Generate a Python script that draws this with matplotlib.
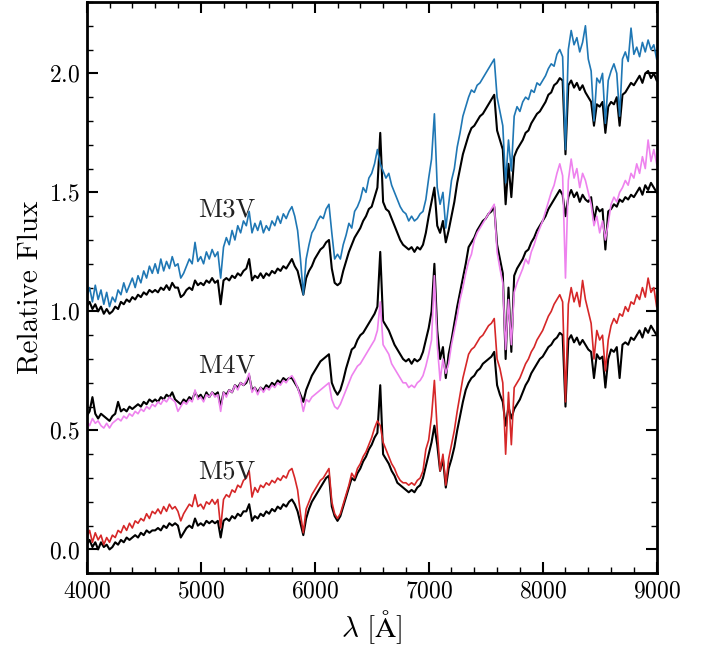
import numpy as np
import matplotlib
matplotlib.use("Agg")
import matplotlib.pyplot as plt
from matplotlib.ticker import MultipleLocator

# wavelength grid shared by all spectra (Angstrom)
wave = np.arange(4000, 9001, 25)

# M3V target (blue) and its black comparison spectrum
flux_m3v = [
    1.06, 1.10, 1.04, 1.11, 1.05, 1.09, 1.03, 1.08,
    1.02, 1.06, 1.04, 1.09, 1.07, 1.12, 1.08, 1.11,
    1.14, 1.10, 1.15, 1.12, 1.17, 1.14, 1.19, 1.16,
    1.20, 1.16, 1.22, 1.17, 1.21, 1.18, 1.23, 1.19,
    1.20, 1.14, 1.16, 1.19, 1.22, 1.20, 1.29, 1.21,
    1.23, 1.20, 1.25, 1.22, 1.26, 1.23, 1.25, 1.14,
    1.27, 1.31, 1.28, 1.34, 1.30, 1.36, 1.33, 1.38,
    1.36, 1.42, 1.33, 1.37, 1.34, 1.38, 1.33, 1.36,
    1.34, 1.38, 1.36, 1.40, 1.37, 1.41, 1.39, 1.42,
    1.44, 1.40, 1.34, 1.22, 1.07, 1.22, 1.28, 1.33,
    1.35, 1.38, 1.40, 1.39, 1.43, 1.45, 1.33, 1.22,
    1.24, 1.22, 1.28, 1.32, 1.37, 1.35, 1.42, 1.44,
    1.47, 1.52, 1.50, 1.56, 1.58, 1.62, 1.68, 1.62,
    1.59, 1.56, 1.58, 1.53, 1.50, 1.47, 1.44, 1.42,
    1.41, 1.38, 1.40, 1.38, 1.39, 1.41, 1.42, 1.47,
    1.56, 1.64, 1.83, 1.52, 1.45, 1.50, 1.35, 1.45,
    1.55, 1.60, 1.69, 1.75, 1.82, 1.86, 1.90, 1.93,
    1.92, 1.95, 1.96, 1.98, 2.00, 2.02, 2.04, 2.06,
    1.90, 1.84, 1.78, 1.54, 1.72, 1.59, 1.82, 1.86,
    1.84, 1.88, 1.90, 1.89, 1.93, 1.92, 1.96, 1.95,
    1.97, 1.99, 2.02, 2.04, 2.03, 2.08, 2.10, 2.07,
    1.68, 2.10, 2.18, 2.12, 2.15, 2.09, 2.13, 2.20,
    2.06, 2.01, 1.80, 1.98, 1.96, 2.00, 1.79, 1.97,
    2.01, 2.04, 2.00, 1.82, 2.06, 2.09, 2.05, 2.19,
    2.08, 2.11, 2.07, 2.13, 2.09, 2.14, 2.10, 2.12,
    2.06]
ref_m3v = [
    1.02, 1.04, 1.01, 1.03, 1.00, 1.02, 0.99, 1.01,
    0.99, 1.00, 1.02, 1.01, 1.04, 1.03, 1.05, 1.04,
    1.06, 1.05, 1.07, 1.06, 1.08, 1.07, 1.09, 1.08,
    1.09, 1.08, 1.10, 1.09, 1.11, 1.09, 1.12, 1.10,
    1.10, 1.06, 1.07, 1.09, 1.10, 1.09, 1.13, 1.11,
    1.12, 1.11, 1.13, 1.12, 1.14, 1.12, 1.13, 1.03,
    1.13, 1.14, 1.13, 1.15, 1.14, 1.16, 1.15, 1.17,
    1.18, 1.22, 1.13, 1.15, 1.14, 1.16, 1.14, 1.16,
    1.15, 1.17, 1.16, 1.18, 1.17, 1.19, 1.18, 1.20,
    1.22, 1.19, 1.17, 1.12, 1.07, 1.14, 1.17, 1.19,
    1.22, 1.24, 1.26, 1.27, 1.29, 1.30, 1.18, 1.12,
    1.11, 1.12, 1.17, 1.21, 1.25, 1.28, 1.31, 1.33,
    1.35, 1.38, 1.40, 1.43, 1.44, 1.48, 1.52, 1.75,
    1.46, 1.43, 1.42, 1.39, 1.36, 1.33, 1.30, 1.28,
    1.27, 1.26, 1.27, 1.25, 1.27, 1.26, 1.28, 1.33,
    1.40, 1.46, 1.52, 1.36, 1.33, 1.38, 1.29, 1.34,
    1.40, 1.46, 1.54, 1.60, 1.66, 1.70, 1.74, 1.77,
    1.78, 1.80, 1.82, 1.83, 1.85, 1.87, 1.89, 1.91,
    1.76, 1.72, 1.68, 1.45, 1.62, 1.48, 1.65, 1.68,
    1.70, 1.72, 1.75, 1.76, 1.79, 1.81, 1.83, 1.84,
    1.86, 1.88, 1.91, 1.92, 1.95, 1.96, 1.98, 1.97,
    1.66, 1.95, 1.97, 1.94, 1.96, 1.93, 1.95, 1.92,
    1.90, 1.88, 1.78, 1.87, 1.86, 1.88, 1.75, 1.86,
    1.88, 1.87, 1.90, 1.78, 1.91, 1.92, 1.94, 1.96,
    1.95, 1.97, 1.99, 1.96, 2.00, 2.01, 1.98, 2.00,
    1.97]

# M4V target (violet) and comparison
flux_m4v = [
    0.54, 0.52, 0.55, 0.53, 0.54, 0.52, 0.51, 0.53,
    0.51, 0.53, 0.54, 0.55, 0.54, 0.56, 0.55, 0.57,
    0.56, 0.58, 0.57, 0.59, 0.58, 0.60, 0.59, 0.61,
    0.60, 0.62, 0.61, 0.63, 0.62, 0.64, 0.63, 0.62,
    0.58, 0.60, 0.62, 0.61, 0.63, 0.62, 0.67, 0.63,
    0.64, 0.62, 0.65, 0.64, 0.66, 0.64, 0.65, 0.58,
    0.66, 0.64, 0.67, 0.66, 0.69, 0.67, 0.70, 0.69,
    0.71, 0.74, 0.66, 0.68, 0.65, 0.68, 0.66, 0.68,
    0.67, 0.69, 0.68, 0.70, 0.69, 0.71, 0.70, 0.72,
    0.73, 0.71, 0.68, 0.64, 0.58, 0.63, 0.62, 0.64,
    0.65, 0.66, 0.67, 0.68, 0.69, 0.70, 0.63, 0.60,
    0.59, 0.61, 0.64, 0.67, 0.70, 0.73, 0.75, 0.77,
    0.78, 0.80, 0.82, 0.84, 0.86, 0.88, 0.92, 1.04,
    0.86, 0.84, 0.82, 0.78, 0.76, 0.74, 0.72, 0.70,
    0.70, 0.68, 0.69, 0.68, 0.70, 0.71, 0.73, 0.77,
    0.82, 0.88, 1.15, 0.86, 0.71, 0.80, 0.74, 0.78,
    0.86, 0.92, 0.98, 1.05, 1.10, 1.16, 1.21, 1.24,
    1.30, 1.33, 1.35, 1.37, 1.39, 1.41, 1.43, 1.45,
    1.25, 1.18, 1.12, 0.84, 1.05, 0.86, 1.08, 1.12,
    1.15, 1.18, 1.22, 1.20, 1.25, 1.28, 1.32, 1.35,
    1.38, 1.42, 1.46, 1.50, 1.53, 1.58, 1.62, 1.57,
    1.14, 1.55, 1.64, 1.56, 1.60, 1.52, 1.58, 1.55,
    1.50, 1.45, 1.36, 1.40, 1.33, 1.38, 1.30, 1.37,
    1.45, 1.48, 1.46, 1.50, 1.52, 1.55, 1.53, 1.58,
    1.56, 1.62, 1.58, 1.65, 1.60, 1.72, 1.63, 1.68,
    1.62]
ref_m4v = [
    0.56, 0.58, 0.64, 0.57, 0.55, 0.57, 0.56, 0.55,
    0.54, 0.56, 0.57, 0.62, 0.58, 0.59, 0.58, 0.60,
    0.59, 0.60, 0.61, 0.60, 0.62, 0.61, 0.63, 0.62,
    0.63, 0.62, 0.64, 0.63, 0.65, 0.64, 0.66, 0.63,
    0.62, 0.61, 0.63, 0.62, 0.64, 0.63, 0.66, 0.64,
    0.65, 0.63, 0.66, 0.64, 0.66, 0.65, 0.66, 0.60,
    0.66, 0.65, 0.67, 0.66, 0.69, 0.68, 0.70, 0.69,
    0.70, 0.73, 0.67, 0.68, 0.66, 0.68, 0.67, 0.69,
    0.68, 0.70, 0.69, 0.71, 0.70, 0.72, 0.71, 0.72,
    0.72, 0.70, 0.68, 0.65, 0.62, 0.67, 0.70, 0.73,
    0.75, 0.77, 0.79, 0.80, 0.81, 0.82, 0.70, 0.67,
    0.65, 0.67, 0.71, 0.76, 0.80, 0.84, 0.85, 0.88,
    0.90, 0.91, 0.93, 0.95, 0.97, 0.99, 1.02, 1.25,
    0.96, 0.94, 0.92, 0.89, 0.86, 0.84, 0.82, 0.80,
    0.79, 0.80, 0.78, 0.80, 0.79, 0.80, 0.83, 0.88,
    0.93, 1.00, 1.20, 0.92, 0.80, 0.85, 0.72, 0.82,
    0.88, 0.95, 1.02, 1.08, 1.14, 1.20, 1.27, 1.29,
    1.31, 1.34, 1.36, 1.38, 1.39, 1.41, 1.42, 1.44,
    1.28, 1.22, 1.16, 0.80, 1.10, 0.83, 1.15, 1.18,
    1.20, 1.22, 1.25, 1.26, 1.29, 1.31, 1.34, 1.36,
    1.38, 1.40, 1.43, 1.45, 1.47, 1.49, 1.51, 1.49,
    1.40, 1.48, 1.51, 1.48, 1.50, 1.46, 1.49, 1.47,
    1.46, 1.48, 1.38, 1.44, 1.42, 1.43, 1.26, 1.42,
    1.43, 1.45, 1.44, 1.47, 1.46, 1.48, 1.47, 1.49,
    1.48, 1.50, 1.52, 1.49, 1.53, 1.51, 1.54, 1.52,
    1.50]

# M5V target (red) and comparison
flux_m5v = [
    0.05, 0.08, 0.03, 0.07, 0.04, 0.06, 0.02, 0.05,
    0.03, 0.06, 0.05, 0.08, 0.07, 0.10, 0.08, 0.11,
    0.09, 0.12, 0.11, 0.13, 0.12, 0.15, 0.13, 0.16,
    0.15, 0.17, 0.15, 0.18, 0.16, 0.19, 0.17, 0.18,
    0.16, 0.12, 0.15, 0.17, 0.19, 0.18, 0.23, 0.18,
    0.19, 0.17, 0.20, 0.19, 0.21, 0.19, 0.21, 0.09,
    0.21, 0.23, 0.22, 0.25, 0.24, 0.27, 0.26, 0.29,
    0.30, 0.33, 0.22, 0.26, 0.24, 0.27, 0.26, 0.28,
    0.27, 0.29, 0.28, 0.30, 0.29, 0.31, 0.30, 0.33,
    0.34, 0.30, 0.25, 0.15, 0.07, 0.17, 0.20, 0.23,
    0.25, 0.27, 0.29, 0.30, 0.32, 0.34, 0.20, 0.15,
    0.13, 0.15, 0.19, 0.23, 0.27, 0.32, 0.30, 0.34,
    0.36, 0.39, 0.41, 0.44, 0.47, 0.51, 0.54, 0.52,
    0.45, 0.42, 0.39, 0.36, 0.34, 0.31, 0.29, 0.28,
    0.28, 0.27, 0.28, 0.27, 0.29, 0.30, 0.33, 0.42,
    0.46, 0.56, 0.71, 0.50, 0.33, 0.40, 0.27, 0.38,
    0.44, 0.50, 0.58, 0.65, 0.72, 0.77, 0.82, 0.84,
    0.85, 0.87, 0.89, 0.90, 0.92, 0.94, 0.95, 0.97,
    0.80, 0.76, 0.70, 0.40, 0.66, 0.44, 0.68, 0.70,
    0.72, 0.75, 0.78, 0.80, 0.83, 0.85, 0.88, 0.90,
    0.92, 0.95, 0.98, 1.00, 1.03, 1.05, 1.07, 1.04,
    0.62, 1.03, 1.10, 1.04, 1.08, 1.02, 1.13, 1.05,
    1.00, 0.95, 0.80, 0.92, 0.88, 0.90, 0.75, 0.88,
    0.94, 0.97, 0.95, 0.99, 0.98, 1.02, 1.00, 1.04,
    1.03, 1.07, 1.05, 1.10, 1.06, 1.14, 1.08, 1.10,
    1.02]
ref_m5v = [
    0.02, 0.04, 0.01, 0.03, 0.00, 0.03, 0.01, 0.02,
    0.00, 0.01, 0.03, 0.02, 0.04, 0.03, 0.05, 0.04,
    0.05, 0.06, 0.05, 0.07, 0.06, 0.08, 0.07, 0.08,
    0.08, 0.09, 0.08, 0.10, 0.09, 0.11, 0.10, 0.11,
    0.10, 0.05, 0.07, 0.09, 0.10, 0.09, 0.13, 0.10,
    0.11, 0.10, 0.12, 0.11, 0.12, 0.11, 0.12, 0.05,
    0.12, 0.13, 0.12, 0.14, 0.13, 0.15, 0.14, 0.16,
    0.16, 0.19, 0.12, 0.14, 0.13, 0.15, 0.14, 0.16,
    0.15, 0.17, 0.16, 0.18, 0.17, 0.19, 0.18, 0.20,
    0.21, 0.19, 0.16, 0.11, 0.06, 0.13, 0.17, 0.20,
    0.22, 0.24, 0.26, 0.28, 0.30, 0.31, 0.18, 0.14,
    0.12, 0.14, 0.18, 0.22, 0.26, 0.30, 0.29, 0.32,
    0.34, 0.37, 0.39, 0.42, 0.44, 0.47, 0.49, 0.69,
    0.40, 0.38, 0.36, 0.33, 0.31, 0.28, 0.27, 0.26,
    0.25, 0.24, 0.25, 0.24, 0.26, 0.27, 0.30, 0.35,
    0.40, 0.45, 0.52, 0.44, 0.33, 0.38, 0.26, 0.34,
    0.38, 0.43, 0.50, 0.56, 0.62, 0.67, 0.70, 0.72,
    0.73, 0.75, 0.76, 0.78, 0.79, 0.80, 0.81, 0.83,
    0.69, 0.65, 0.62, 0.52, 0.60, 0.55, 0.59, 0.61,
    0.63, 0.66, 0.69, 0.71, 0.74, 0.76, 0.78, 0.80,
    0.81, 0.83, 0.85, 0.86, 0.88, 0.89, 0.91, 0.90,
    0.60, 0.88, 0.90, 0.87, 0.89, 0.86, 0.88, 0.86,
    0.84, 0.83, 0.72, 0.82, 0.80, 0.81, 0.68, 0.80,
    0.84, 0.83, 0.85, 0.72, 0.86, 0.87, 0.86, 0.89,
    0.88, 0.90, 0.92, 0.89, 0.93, 0.91, 0.94, 0.92,
    0.90]

labels = ["M3V", "M4V", "M5V"]
label_pos = [(5225, 1.40), (5225, 0.745), (5225, 0.30)]
colors = ["#1f77b4", "#ee82ee", "#d62728"]

plt.rcParams['font.family'] = 'cmr10'
plt.rcParams['mathtext.fontset'] = 'cm'
plt.rcParams['axes.formatter.use_mathtext'] = True

fig = plt.figure(figsize=(7.08, 6.47), dpi=100)
ax = fig.add_axes([0.1225, 0.114, 0.805, 0.883])

targets = [flux_m3v, flux_m4v, flux_m5v]
refs = [ref_m3v, ref_m4v, ref_m5v]

# black comparison spectra first, coloured targets on top
for ref in refs:
    ax.plot(wave, ref, color='black', lw=1.5)
for flux, c in zip(targets, colors):
    ax.plot(wave, flux, color=c, lw=1.2)

for name, (x, y) in zip(labels, label_pos):
    ax.text(x, y, name, fontsize=19, ha='center', va='baseline', color='#222222')

ax.set_xlim(4000, 9000)
ax.set_ylim(-0.1, 2.3)
ax.xaxis.set_major_locator(MultipleLocator(1000))
ax.xaxis.set_minor_locator(MultipleLocator(200))
ax.yaxis.set_major_locator(MultipleLocator(0.5))
ax.yaxis.set_minor_locator(MultipleLocator(0.1))
ax.tick_params(which='both', direction='in', top=True, right=True, labelsize=17)
ax.tick_params(which='major', length=8, width=1.5, pad=5)
ax.tick_params(which='minor', length=4.5, width=1.0)
for s in ax.spines.values():
    s.set_linewidth(2)

ax.set_xlabel(r'$\lambda\ [\mathrm{\AA}]$', fontsize=21)
ax.set_ylabel('Relative Flux', fontsize=21)

fig.savefig('out.png', dpi=100)
